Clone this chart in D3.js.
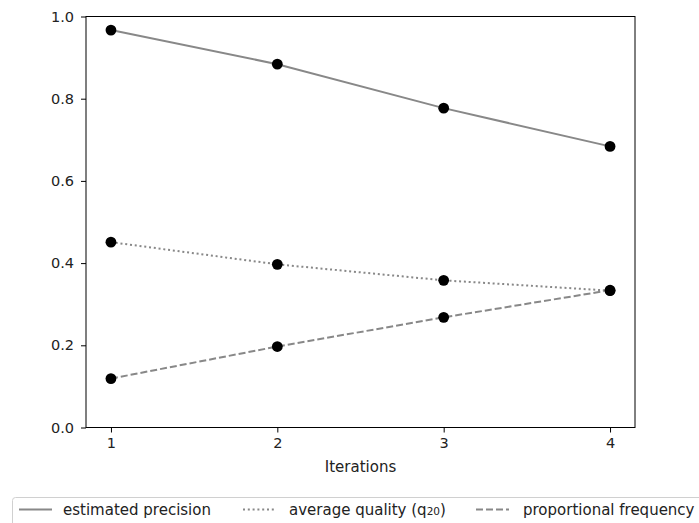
<!DOCTYPE html>
<html>
<head>
<meta charset="utf-8">
<script src="https://cdn.jsdelivr.net/npm/d3@7"></script>
<style>
  body { margin: 0; background: #fff; }
  svg { display: block; font-family: "DejaVu Sans", sans-serif; }
</style>
</head>
<body>
<div id="chart"></div>
<script>
const iterations = [1, 2, 3, 4]
const precision = [0.967, 0.884, 0.777, 0.684]
const quality = [0.451, 0.397, 0.358, 0.333]
const frequency = [0.119, 0.197, 0.268, 0.334]
const yTicks = [0.0, 0.2, 0.4, 0.6, 0.8, 1.0]
const seriesNames = ["estimated precision", "average quality (q", "proportional frequency"]

const width = 699, height = 523
const plotLeft = 86, plotRight = 635, plotTop = 16.5, plotBottom = 427.5

const svg = d3.select("#chart").append("svg")
    .attr("width", width)
    .attr("height", height)

const x = d3.scaleLinear().domain([0.85, 4.15]).range([plotLeft, plotRight])
const y = d3.scaleLinear().domain([0, 1]).range([plotBottom, plotTop])

const series = [
    { name: seriesNames[0], values: precision, dash: null },
    { name: seriesNames[1], values: quality, dash: "2,2.8" },
    { name: seriesNames[2], values: frequency, dash: "7,3" }
]

const line = d3.line()
    .x((d, i) => x(iterations[i]))
    .y(d => y(d))

series.forEach(s => {
    svg.append("path")
        .attr("d", line(s.values))
        .attr("fill", "none")
        .attr("stroke", "#888")
        .attr("stroke-width", 2)
        .attr("stroke-dasharray", s.dash)
    svg.append("g")
        .selectAll("circle")
        .data(s.values)
        .enter()
        .append("circle")
        .attr("cx", (d, i) => x(iterations[i]))
        .attr("cy", d => y(d))
        .attr("r", 5.4)
        .attr("fill", "#000")
})

// frame
svg.append("rect")
    .attr("x", plotLeft).attr("y", plotTop)
    .attr("width", plotRight - plotLeft).attr("height", plotBottom - plotTop)
    .attr("fill", "none").attr("stroke", "#000").attr("stroke-width", 1)

const xAxis = svg.append("g")
    .attr("transform", `translate(0,${plotBottom})`)
    .call(d3.axisBottom(x).tickValues(iterations).tickFormat(d3.format("d")).tickSize(5).tickPadding(5))
const yAxis = svg.append("g")
    .attr("transform", `translate(${plotLeft},0)`)
    .call(d3.axisLeft(y).tickValues(yTicks).tickFormat(d3.format(".1f")).tickSize(5).tickPadding(7))

;[xAxis, yAxis].forEach(a => {
    a.select(".domain").remove()
    a.selectAll("line").attr("stroke", "#000")
    a.selectAll("text").attr("font-size", 14.5).attr("fill", "#222")
        .attr("font-family", "DejaVu Sans, sans-serif")
})

svg.append("text")
    .attr("x", (plotLeft + plotRight) / 2)
    .attr("y", 472)
    .attr("text-anchor", "middle")
    .attr("font-size", 15)
    .attr("fill", "#222")
    .text("Iterations")

// legend
const legend = svg.append("g")
legend.append("rect")
    .attr("x", 12.5).attr("y", 497.5)
    .attr("width", 700).attr("height", 40)
    .attr("rx", 3)
    .attr("fill", "#fff")
    .attr("stroke", "#d0d0d0")

const legendPos = [
    { x1: 19, x2: 52, tx: 63 },
    { x1: 243, x2: 275, tx: 289 },
    { x1: 476, x2: 509, tx: 523 }
]
series.forEach((s, i) => {
    const p = legendPos[i]
    legend.append("line")
        .attr("x1", p.x1).attr("x2", p.x2)
        .attr("y1", 509.5).attr("y2", 509.5)
        .attr("stroke", "#888")
        .attr("stroke-width", 2)
        .attr("stroke-dasharray", s.dash)
    const t = legend.append("text")
        .attr("x", p.tx).attr("y", 515)
        .attr("font-size", 15)
        .attr("fill", "#222")
        .text(s.name)
    if (i === 1) {
        t.append("tspan").attr("font-size", 10.5).text("20")
        t.append("tspan").text(")")
    }
})
</script>
</body>
</html>
